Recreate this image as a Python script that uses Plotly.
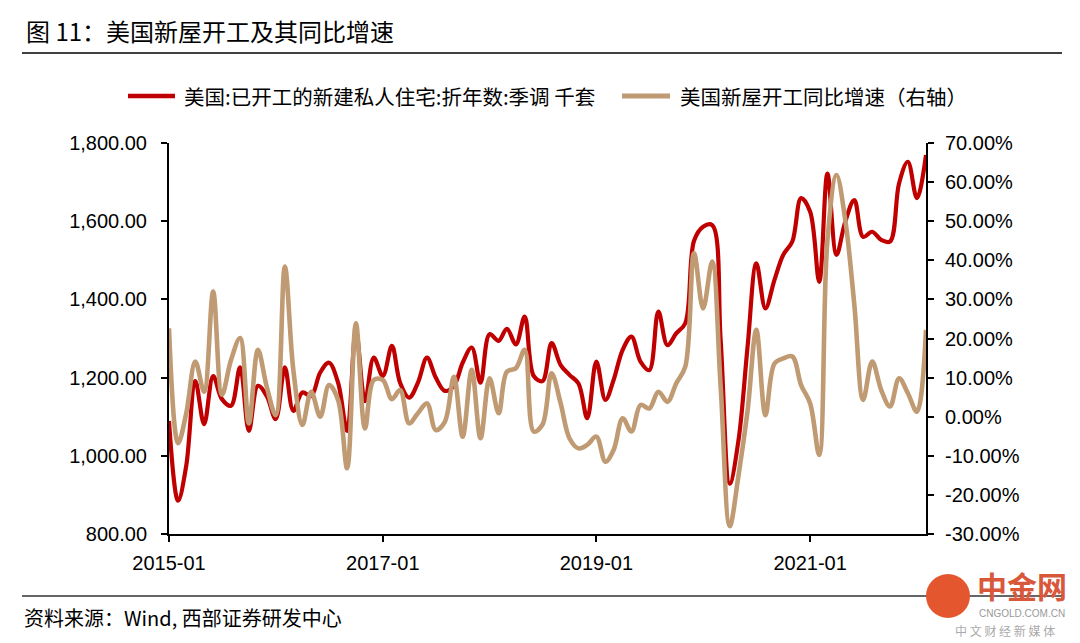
import plotly.graph_objects as go

# ---- data ----
start_year, start_month, n_months = 2015, 1, 86  # 2015-01 .. 2022-02

starts = [1089, 885, 975, 1191, 1081, 1204, 1145, 1128, 1226, 1064, 1179, 1153,   # 2015
          1094, 1226, 1115, 1162, 1153, 1213, 1238, 1187, 1064, 1320, 1140, 1251,  # 2016
          1204, 1281, 1187, 1149, 1187, 1251, 1200, 1166, 1179, 1238, 1277, 1187,  # 2017
          1311, 1294, 1325, 1285, 1356, 1204, 1191, 1288, 1232, 1207, 1185, 1096,  # 2018
          1241, 1143, 1194, 1271, 1305, 1241, 1219, 1369, 1283, 1313, 1339, 1550,  # 2019
          1586, 1590, 1296, 929, 1040, 1279, 1492, 1377, 1450, 1514, 1548, 1659,   # 2020
          1624, 1445, 1722, 1514, 1599, 1654, 1560, 1573, 1552, 1548, 1697, 1752,  # 2021
          1659, 1769]                                                              # 2022

yoy = [22.6, -6.8, 0.9, 14.1, 6.4, 32.0, 5.6, 14.5, 20.1, -1.7, 17.1, 7.7,
       0.4, 38.4, 12.0, -2.1, 6.4, 0.0, 8.1, 4.3, -13.2, 23.9, -3.0, 9.4,
       9.4, 4.5, 6.8, -1.7, 0.9, 3.4, -3.4, -1.3, 10.2, -5.1, 12.0, -5.5,
       9.8, 0.9, 11.5, 12.4, 17.1, -3.8, -2.0, 11.1, 3.4, -5.5, -8.1, -7.2,
       -5.1, -11.5, -8.5, -0.4, -3.8, 3.0, 2.1, 6.4, 3.8, 8.5, 12.8, 41.8,
       27.7, 39.7, 7.7, -28.0, -15.0, 1.5, 22.2, 0.4, 13.6, 14.9, 15.4, 8.1,
       3.4, -9.8, 45.2, 61.8, 50.3, 28.6, 4.3, 14.1, 6.8, 2.6, 9.8, 6.0,
       1.3, 22.2]

x_tick_labels = ["2015-01", "2017-01", "2019-01", "2021-01"]
left_ticks = [800, 1000, 1200, 1400, 1600, 1800]
right_ticks = [-30, -20, -10, 0, 10, 20, 30, 40, 50, 60, 70]

name_starts = "美国:已开工的新建私人住宅:折年数:季调 千套"
name_yoy = "美国新屋开工同比增速（右轴）"
title_text = "图 11：美国新屋开工及其同比增速"
source_text = "资料来源：Wind, 西部证券研发中心"

months = []
y, m = start_year, start_month
for _ in range(n_months):
    months.append(f"{y:04d}-{m:02d}-01")
    m += 1
    if m > 12:
        m = 1
        y += 1

RED = "#C00000"
TAN = "#BF9A72"
CJK = "Noto Sans CJK SC"
LAT = "Liberation Sans, Arial"

fig = go.Figure()
fig.add_trace(go.Scatter(x=months, y=starts, name=name_starts, mode="lines",
                         line=dict(color=RED, width=4.2, shape="spline", smoothing=1.0),
                         yaxis="y", showlegend=False))
fig.add_trace(go.Scatter(x=months, y=yoy, name=name_yoy, mode="lines",
                         line=dict(color=TAN, width=4.6, shape="spline", smoothing=1.0),
                         yaxis="y2", showlegend=False))

W, H = 1080, 643
L, R, T, B = 169, 926, 143, 534
pw, ph = R - L, B - T

def px(xp):
    return (xp - L) / pw

def py(yp):
    return (B - yp) / ph

axis_common = dict(showline=True, linecolor="black", linewidth=2, ticks="outside",
                   ticklen=6, tickwidth=1.5, tickcolor="black", showgrid=False,
                   zeroline=False, tickfont=dict(family=LAT, size=20, color="black"))

fig.update_layout(
    width=W, height=H,
    margin=dict(l=L, r=W - R, t=T, b=H - B),
    paper_bgcolor="white", plot_bgcolor="white",
    showlegend=False,
    xaxis=dict(type="date", range=[months[0], months[-1]],
               tickvals=[t + "-01" for t in x_tick_labels], ticktext=x_tick_labels,
               ticklabelstandoff=4, **axis_common),
    yaxis=dict(range=[800, 1800], tickvals=left_ticks,
               ticktext=[f"{v:,.2f}" for v in left_ticks],
               ticklabelstandoff=10, **axis_common),
    yaxis2=dict(range=[-30, 70], tickvals=right_ticks,
                ticktext=[f"{v:.2f}%" for v in right_ticks],
                overlaying="y", side="right", ticklabelstandoff=7, **axis_common),
)

# manual legend
legend_items = [(name_starts, RED, 4.5, 128, 175, 182),
                (name_yoy, TAN, 5.0, 622, 670, 678)]
for text, col, lw, x0, x1, xt in legend_items:
    fig.add_shape(type="line", xref="paper", yref="paper", x0=px(x0), x1=px(x1),
                  y0=py(96), y1=py(96), line=dict(color=col, width=lw))
    fig.add_annotation(text=text, xref="paper", yref="paper", x=px(xt), y=py(96),
                       xanchor="left", yanchor="middle", showarrow=False,
                       font=dict(family=CJK, size=20.5, color="black"))

# title, rules and source
fig.add_annotation(text=title_text, xref="paper", yref="paper", x=px(24), y=py(31),
                   xanchor="left", yanchor="middle", showarrow=False,
                   font=dict(family=CJK, size=24, color="black"))
fig.add_shape(type="line", xref="paper", yref="paper", x0=px(22), x1=px(1062),
              y0=py(53), y1=py(53), line=dict(color="black", width=1.5))
fig.add_shape(type="line", xref="paper", yref="paper", x0=px(22), x1=px(1062),
              y0=py(596), y1=py(596), line=dict(color="#333333", width=1.5))
fig.add_annotation(text=source_text, xref="paper", yref="paper", x=px(22), y=py(617),
                   xanchor="left", yanchor="middle", showarrow=False,
                   font=dict(family=CJK, size=20, color="black"))

# watermark
fig.add_shape(type="circle", xref="paper", yref="paper", x0=px(926), x1=px(970),
              y0=py(618), y1=py(574), fillcolor="#E4572E", line=dict(width=0))
fig.add_annotation(text="<b>中金网</b>", xref="paper", yref="paper", x=px(1022), y=py(585),
                   xanchor="center", yanchor="middle", showarrow=False,
                   font=dict(family=CJK, size=30, color="#D9573A"))
fig.add_annotation(text="CNGOLD.COM.CN", xref="paper", yref="paper", x=px(1022), y=py(613),
                   xanchor="center", yanchor="middle", showarrow=False,
                   font=dict(family=LAT, size=10, color="#999999"))
fig.add_annotation(text="中 文 财 经 新 媒 体", xref="paper", yref="paper", x=px(1005), y=py(630),
                   xanchor="center", yanchor="middle", showarrow=False,
                   font=dict(family=CJK, size=12, color="#aaaaaa"))

fig.write_html("out.html", config={"displayModeBar": False},
               post_script="document.body.style.margin='0px';")
